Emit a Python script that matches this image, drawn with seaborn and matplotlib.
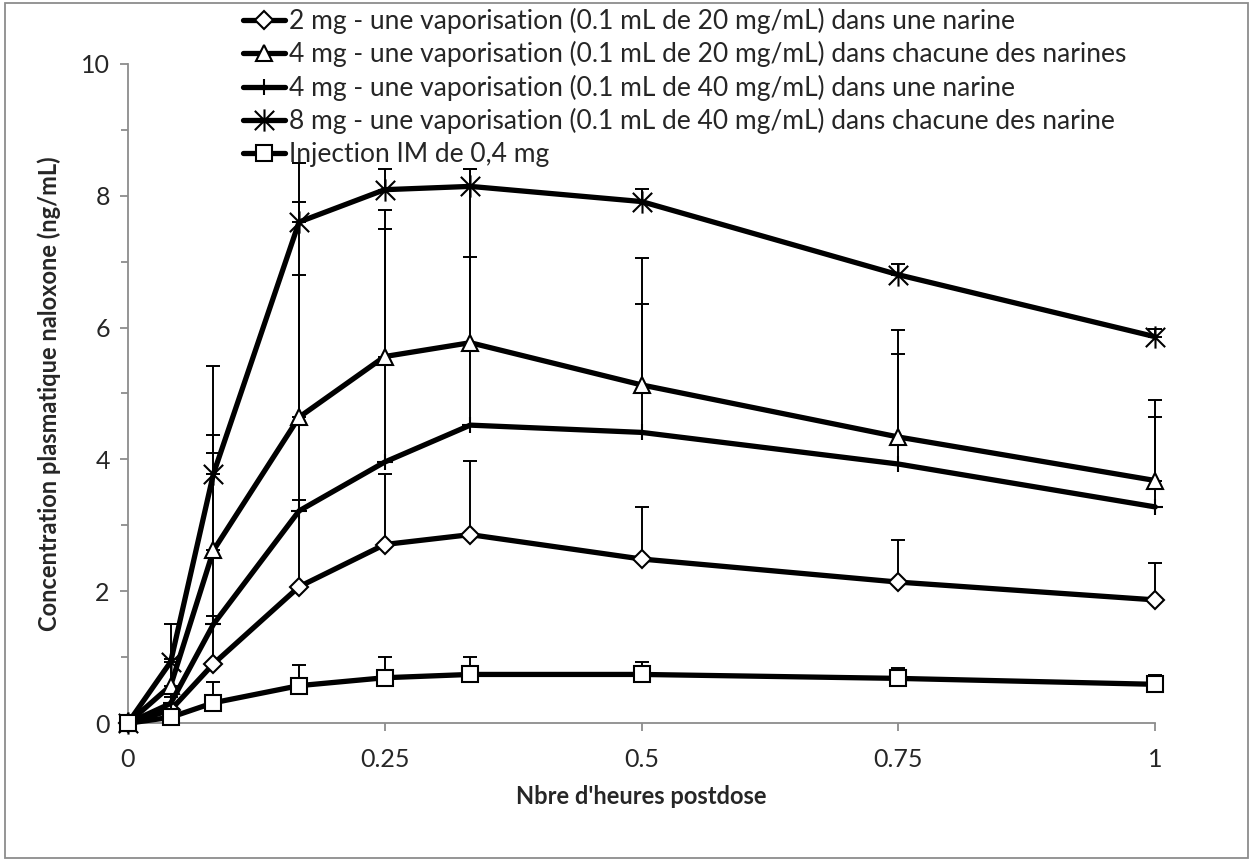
import numpy as np
import pandas as pd
import matplotlib
matplotlib.use("Agg")
import matplotlib.pyplot as plt
import seaborn as sns
from matplotlib.path import Path
from matplotlib.patches import Rectangle
from matplotlib.ticker import MultipleLocator, FixedLocator

# Data: hours postdose and mean plasma naloxone (ng/mL) + upper SD
hours = [0, 0.0417, 0.0833, 0.1667, 0.25, 0.3333, 0.5, 0.75, 1]

labels = [
    "2 mg - une vaporisation (0.1 mL de 20 mg/mL) dans une narine",
    "4 mg - une vaporisation (0.1 mL de 20 mg/mL) dans chacune des narines",
    "4 mg - une vaporisation (0.1 mL de 40 mg/mL) dans une narine",
    "8 mg - une vaporisation (0.1 mL de 40 mg/mL) dans chacune des narine",
    "Injection IM de 0,4 mg",
]

mean_2mg = [0, 0.20, 0.90, 2.07, 2.71, 2.86, 2.49, 2.14, 1.87]
sd_2mg = [0, 0.25, 0.72, 1.32, 1.07, 1.12, 0.79, 0.64, 0.56]

mean_4mg_20 = [0, 0.57, 2.62, 4.64, 5.56, 5.77, 5.13, 4.34, 3.68]
sd_4mg_20 = [0, 0.40, 1.75, 3.27, 2.22, 2.64, 1.93, 1.62, 1.22]

mean_4mg_40 = [0, 0.30, 1.50, 3.22, 3.96, 4.52, 4.41, 3.93, 3.28]
sd_4mg_40 = [0, 0.10, 2.60, 3.58, 3.54, 2.55, 1.95, 1.67, 1.36]

mean_8mg = [0, 0.93, 3.78, 7.60, 8.09, 8.14, 7.91, 6.80, 5.86]
sd_8mg = [0, 0.57, 1.64, 0.90, 0.32, 0.27, 0.19, 0.16, 0.12]

mean_im = [0, 0.09, 0.31, 0.57, 0.69, 0.74, 0.74, 0.68, 0.59]
sd_im = [0, 0.03, 0.32, 0.32, 0.32, 0.27, 0.19, 0.15, 0.14]

# Excel style "star" marker: X with a vertical bar
star = Path([(-1, -1), (1, 1), (-1, 1), (1, -1), (0, -1.15), (0, 1.15)],
            [Path.MOVETO, Path.LINETO, Path.MOVETO, Path.LINETO, Path.MOVETO, Path.LINETO])

series = [
    (mean_2mg, sd_2mg, "D", 9),
    (mean_4mg_20, sd_4mg_20, "^", 12),
    (mean_4mg_40, sd_4mg_40, "+", 12),
    (mean_8mg, sd_8mg, star, 16),
    (mean_im, sd_im, "s", 11),
]

sns.set_style("white")
plt.rcParams['font.family'] = ['Lato', 'DejaVu Sans']

fig = plt.figure(figsize=(12.53, 8.61), dpi=100)
ax = fig.add_axes([0.102, 0.160, 0.820, 0.766])

for (m, s, mk, ms), lab in zip(series, labels):
    eb = ax.errorbar(hours, m, yerr=[np.zeros(len(s)), s], fmt="none", ecolor="black",
                     elinewidth=1.4, capsize=5, capthick=1.4, zorder=2)
    for art in eb.lines[1] + eb.lines[2]:
        art.set_clip_on(False)
    df = pd.DataFrame({"h": hours, "c": m})
    sns.lineplot(data=df, x="h", y="c", ax=ax, color="black", linewidth=3.8,
                 marker=mk, markersize=ms, markerfacecolor="white",
                 markeredgecolor="black", markeredgewidth=1.5, label=lab,
                 zorder=3, clip_on=False)

ax.set_xlim(0, 1)
ax.set_ylim(0, 10)
ax.xaxis.set_major_locator(FixedLocator([0, 0.25, 0.5, 0.75, 1]))
ax.set_xticklabels(["0", "0.25", "0.5", "0.75", "1"])
ax.yaxis.set_major_locator(MultipleLocator(2))
ax.yaxis.set_minor_locator(MultipleLocator(1))

for side in ["top", "right"]:
    ax.spines[side].set_visible(False)
for side in ["left", "bottom"]:
    ax.spines[side].set_color("#8c8c8c")
    ax.spines[side].set_linewidth(1.3)
ax.tick_params(axis="both", which="both", direction="out", color="#8c8c8c",
               labelsize=18, width=1.3, pad=7)
ax.tick_params(axis="x", which="major", pad=12)
ax.tick_params(axis="both", which="major", length=6)
ax.tick_params(axis="y", which="minor", length=5)
ax.tick_params(axis="x", which="both", bottom=True)
ax.tick_params(axis="y", which="both", left=True)

ax.set_xlabel("Nbre d'heures postdose", fontsize=17, fontweight="bold", labelpad=10)
ax.set_ylabel("Concentration plasmatique naloxone (ng/mL)", fontsize=17,
              fontweight="bold", labelpad=14)

leg = ax.legend(loc="upper left", bbox_to_anchor=(0.194, 0.991), bbox_transform=fig.transFigure,
                frameon=False, fontsize=19, handlelength=1.6, handletextpad=0.15,
                labelspacing=0.28, borderaxespad=0, borderpad=0)

fig.patches.append(Rectangle((0.004, 0.004), 0.992, 0.992, transform=fig.transFigure,
                             fill=False, edgecolor="#8c8c8c", linewidth=1.3))

fig.savefig("out.png", dpi=100)
